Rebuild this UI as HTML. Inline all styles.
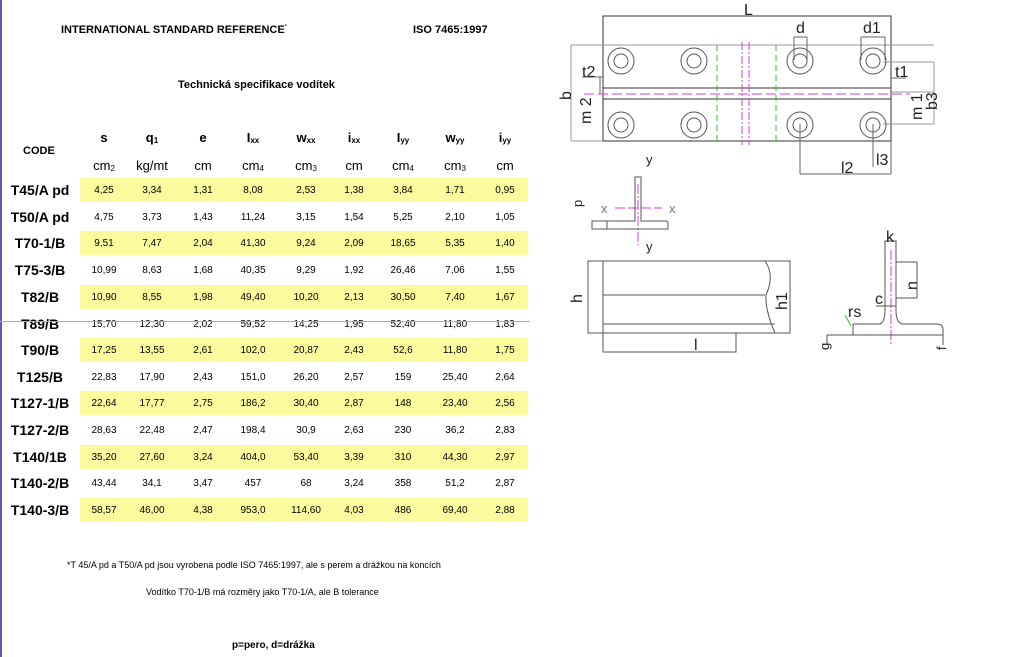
<!DOCTYPE html>
<html><head><meta charset="utf-8"><style>
body{margin:0;width:1024px;height:657px;background:#fff;position:relative;overflow:hidden;font-family:"Liberation Sans",Arial,sans-serif;color:#000}
.a{position:absolute;white-space:nowrap}
.y{position:absolute;left:80px;width:448px;height:24px;background:#fbfb9e}
.r{position:absolute;left:0;width:1024px;height:24px}
.r span{position:absolute;top:7px;font-size:10px;transform:translateX(-50%)}
.r b{position:absolute;top:4px;font-size:14px;left:40px;transform:translateX(-50%)}
.h span{position:absolute;transform:translateX(-50%);font-size:13px}
sub{font-size:8px;vertical-align:-1px}
</style></head><body>
<div class="a" style="left:0;top:0;width:2px;height:657px;background:#6a5aa8"></div>
<div class="a" style="left:61px;top:24px;font-size:11px;font-weight:bold">INTERNATIONAL STANDARD REFERENCE<sup style="font-size:6px;font-weight:normal">*</sup></div>
<div class="a" style="left:413px;top:24px;font-size:11px;font-weight:bold">ISO 7465:1997</div>
<div class="a" style="left:178px;top:79px;font-size:11px;font-weight:bold">Technická specifikace vodítek</div>
<div class="a" style="left:23px;top:145px;font-size:11px;font-weight:bold">CODE</div>
<div class="h a" style="left:0;top:130px;width:600px;font-weight:bold">
<span style="left:104px">s</span><span style="left:152px">q<sub>1</sub></span><span style="left:203px">e</span><span style="left:253px">I<sub>xx</sub></span><span style="left:306px">w<sub>xx</sub></span><span style="left:354px">i<sub>xx</sub></span><span style="left:403px">I<sub>yy</sub></span><span style="left:455px">w<sub>yy</sub></span><span style="left:505px">i<sub>yy</sub></span></div>
<div class="h a" style="left:0;top:158px;width:600px">
<span style="left:104px">cm<sub>2</sub></span><span style="left:152px">kg/mt</span><span style="left:203px">cm</span><span style="left:253px">cm<sub>4</sub></span><span style="left:306px">cm<sub>3</sub></span><span style="left:354px">cm</span><span style="left:403px">cm<sub>4</sub></span><span style="left:455px">cm<sub>3</sub></span><span style="left:505px">cm</span></div>

<div class="y" style="top:178px"></div><div class="y" style="top:231px"></div><div class="y" style="top:285px"></div><div class="y" style="top:338px"></div><div class="y" style="top:391px"></div><div class="y" style="top:445px"></div><div class="y" style="top:498px"></div>

<div class="r" style="top:178px"><b>T45/A pd</b><span style="left:104px">4,25</span><span style="left:152px">3,34</span><span style="left:203px">1,31</span><span style="left:253px">8,08</span><span style="left:306px">2,53</span><span style="left:354px">1,38</span><span style="left:403px">3,84</span><span style="left:455px">1,71</span><span style="left:505px">0,95</span></div>
<div class="r" style="top:205px"><b>T50/A pd</b><span style="left:104px">4,75</span><span style="left:152px">3,73</span><span style="left:203px">1,43</span><span style="left:253px">11,24</span><span style="left:306px">3,15</span><span style="left:354px">1,54</span><span style="left:403px">5,25</span><span style="left:455px">2,10</span><span style="left:505px">1,05</span></div>
<div class="r" style="top:231px"><b>T70-1/B</b><span style="left:104px">9,51</span><span style="left:152px">7,47</span><span style="left:203px">2,04</span><span style="left:253px">41,30</span><span style="left:306px">9,24</span><span style="left:354px">2,09</span><span style="left:403px">18,65</span><span style="left:455px">5,35</span><span style="left:505px">1,40</span></div>
<div class="r" style="top:258px"><b>T75-3/B</b><span style="left:104px">10,99</span><span style="left:152px">8,63</span><span style="left:203px">1,68</span><span style="left:253px">40,35</span><span style="left:306px">9,29</span><span style="left:354px">1,92</span><span style="left:403px">26,46</span><span style="left:455px">7,06</span><span style="left:505px">1,55</span></div>
<div class="r" style="top:285px"><b>T82/B</b><span style="left:104px">10,90</span><span style="left:152px">8,55</span><span style="left:203px">1,98</span><span style="left:253px">49,40</span><span style="left:306px">10,20</span><span style="left:354px">2,13</span><span style="left:403px">30,50</span><span style="left:455px">7,40</span><span style="left:505px">1,67</span></div>
<div class="r" style="top:312px"><b>T89/B</b><span style="left:104px">15,70</span><span style="left:152px">12,30</span><span style="left:203px">2,02</span><span style="left:253px">59,52</span><span style="left:306px">14,25</span><span style="left:354px">1,95</span><span style="left:403px">52,40</span><span style="left:455px">11,80</span><span style="left:505px">1,83</span></div>
<div class="a" style="left:0;top:321px;width:530px;height:1px;background:#a8a8c8"></div>
<div class="r" style="top:338px"><b>T90/B</b><span style="left:104px">17,25</span><span style="left:152px">13,55</span><span style="left:203px">2,61</span><span style="left:253px">102,0</span><span style="left:306px">20,87</span><span style="left:354px">2,43</span><span style="left:403px">52,6</span><span style="left:455px">11,80</span><span style="left:505px">1,75</span></div>
<div class="r" style="top:365px"><b>T125/B</b><span style="left:104px">22,83</span><span style="left:152px">17,90</span><span style="left:203px">2,43</span><span style="left:253px">151,0</span><span style="left:306px">26,20</span><span style="left:354px">2,57</span><span style="left:403px">159</span><span style="left:455px">25,40</span><span style="left:505px">2,64</span></div>
<div class="r" style="top:391px"><b>T127-1/B</b><span style="left:104px">22,64</span><span style="left:152px">17,77</span><span style="left:203px">2,75</span><span style="left:253px">186,2</span><span style="left:306px">30,40</span><span style="left:354px">2,87</span><span style="left:403px">148</span><span style="left:455px">23,40</span><span style="left:505px">2,56</span></div>
<div class="r" style="top:418px"><b>T127-2/B</b><span style="left:104px">28,63</span><span style="left:152px">22,48</span><span style="left:203px">2,47</span><span style="left:253px">198,4</span><span style="left:306px">30,9</span><span style="left:354px">2,63</span><span style="left:403px">230</span><span style="left:455px">36,2</span><span style="left:505px">2,83</span></div>
<div class="r" style="top:445px"><b>T140/1B</b><span style="left:104px">35,20</span><span style="left:152px">27,60</span><span style="left:203px">3,24</span><span style="left:253px">404,0</span><span style="left:306px">53,40</span><span style="left:354px">3,39</span><span style="left:403px">310</span><span style="left:455px">44,30</span><span style="left:505px">2,97</span></div>
<div class="r" style="top:471px"><b>T140-2/B</b><span style="left:104px">43,44</span><span style="left:152px">34,1</span><span style="left:203px">3,47</span><span style="left:253px">457</span><span style="left:306px">68</span><span style="left:354px">3,24</span><span style="left:403px">358</span><span style="left:455px">51,2</span><span style="left:505px">2,87</span></div>
<div class="r" style="top:498px"><b>T140-3/B</b><span style="left:104px">58,57</span><span style="left:152px">46,00</span><span style="left:203px">4,38</span><span style="left:253px">953,0</span><span style="left:306px">114,60</span><span style="left:354px">4,03</span><span style="left:403px">486</span><span style="left:455px">69,40</span><span style="left:505px">2,88</span></div>

<div class="a" style="left:67px;top:560px;font-size:9px">*T 45/A pd a T50/A pd jsou vyrobena podle ISO 7465:1997, ale s perem a drážkou na koncích</div>
<div class="a" style="left:146px;top:587px;font-size:9px">Vodítko T70-1/B má rozměry jako T70-1/A, ale B tolerance</div>
<div class="a" style="left:232px;top:640px;font-size:10px;font-weight:bold">p=pero, d=drážka</div>

<svg class="a" style="left:0;top:0" width="1024" height="657" font-family="Liberation Sans, sans-serif" fill="none" stroke-width="1">
<g stroke="#333">
<rect x="603" y="16" width="288" height="125"/>
<line x1="571" y1="45" x2="934" y2="45" stroke="#999"/>
<line x1="571" y1="45" x2="571" y2="141" stroke="#999"/>
<line x1="571" y1="141" x2="603" y2="141" stroke="#999"/>
<line x1="603" y1="88" x2="891" y2="88"/>
<line x1="603" y1="99" x2="891" y2="99"/>
<line x1="891" y1="92" x2="934" y2="92" stroke="#999"/>
<line x1="934" y1="62" x2="934" y2="124" stroke="#999"/>
<line x1="883" y1="124" x2="934" y2="124" stroke="#999"/>
<line x1="883" y1="62" x2="934" y2="62" stroke="#999"/>
<line x1="800" y1="124" x2="800" y2="174" stroke="#666"/>
<line x1="800" y1="174" x2="891" y2="174" stroke="#666"/>
<line x1="891" y1="141" x2="891" y2="174" stroke="#666"/>
<line x1="873" y1="124" x2="873" y2="167" stroke="#666"/>
<line x1="794" y1="60" x2="794" y2="37" stroke="#666"/><line x1="807" y1="60" x2="807" y2="37" stroke="#666"/><line x1="794" y1="37" x2="807" y2="37" stroke="#666"/>
<line x1="861" y1="60" x2="861" y2="37" stroke="#666"/><line x1="885" y1="60" x2="885" y2="37" stroke="#666"/><line x1="861" y1="37" x2="885" y2="37" stroke="#666"/>
<line x1="582" y1="77" x2="603" y2="77" stroke="#666"/><line x1="600" y1="77" x2="600" y2="94" stroke="#666"/>
<line x1="891" y1="78" x2="906" y2="78" stroke="#666"/>
</g>
<g stroke="#555">
<circle cx="621" cy="61" r="13"/><circle cx="621" cy="61" r="7"/>
<circle cx="694" cy="61" r="13"/><circle cx="694" cy="61" r="7"/>
<circle cx="800" cy="61" r="13"/><circle cx="800" cy="61" r="7"/>
<circle cx="873" cy="61" r="13"/><circle cx="873" cy="61" r="7"/>
<circle cx="621" cy="125" r="13"/><circle cx="621" cy="125" r="7"/>
<circle cx="694" cy="125" r="13"/><circle cx="694" cy="125" r="7"/>
<circle cx="800" cy="125" r="13"/><circle cx="800" cy="125" r="7"/>
<circle cx="873" cy="125" r="13"/><circle cx="873" cy="125" r="7"/>
</g>
<g stroke="#d040d0">
<line x1="584" y1="94" x2="910" y2="94" stroke-dasharray="10,4"/>
<line x1="742" y1="42" x2="742" y2="145" stroke-dasharray="8,2,2,2"/>
<line x1="749" y1="42" x2="749" y2="145" stroke-dasharray="8,2,2,2"/>
<line x1="638" y1="184" x2="638" y2="245" stroke-dasharray="10,2,2,2"/>
<line x1="615" y1="208" x2="662" y2="208" stroke-dasharray="10,3"/>
<line x1="891" y1="250" x2="891" y2="345" stroke-dasharray="10,2,2,2"/>
</g>
<g stroke="#30c030" stroke-dasharray="6,4"><line x1="717" y1="45" x2="717" y2="141"/><line x1="776" y1="45" x2="776" y2="141"/></g>
<g stroke="#555">
<path d="M635 177 V221 H592 V229 H668 V223 Q668 221 665 221 H641 V177 Z"/>
<line x1="607" y1="221" x2="607" y2="229"/>
<rect x="588" y="261" width="202" height="72"/>
<line x1="603" y1="261" x2="603" y2="333"/>
<line x1="603" y1="295" x2="765" y2="295"/>
<line x1="603" y1="324" x2="775" y2="324"/>
<path d="M765 261 Q775 275 766 295 Q765 310 775 333"/>
<path d="M603 333 H736 V352 H603 Z"/>
<path d="M885 241 V310 Q885 322 880 324 H853 V335 H943 V329 Q943 324 936 324 H902 Q896 322 896 310 V241 Z"/>
<path d="M896 262 H917 V298 H896"/>
<line x1="827" y1="335" x2="827" y2="345"/><line x1="827" y1="335" x2="853" y2="335"/>
<line x1="943" y1="335" x2="943" y2="345"/><line x1="876" y1="306" x2="896" y2="306"/>
</g>
<line x1="845" y1="315" x2="851" y2="326" stroke="#30c030"/>
<g fill="#222" stroke="none" font-size="16">
<text x="744" y="15">L</text><text x="796" y="33">d</text><text x="863" y="33">d1</text>
<text x="582" y="77">t2</text><text x="895" y="77">t1</text>
<text x="841" y="173">l2</text><text x="876" y="165">l3</text>
<text x="848" y="317">rs</text><text x="875" y="304">c</text><text x="886" y="242">k</text>
<text x="694" y="350">l</text>
<text x="646" y="164" font-size="13">y</text><text x="646" y="251" font-size="13">y</text>
<text x="601" y="213" font-size="13" fill="#777">x</text><text x="669" y="213" font-size="13" fill="#777">x</text>
<text transform="translate(571,100) rotate(-90)">b</text>
<text transform="translate(591,124) rotate(-90)">m 2</text>
<text transform="translate(937,110) rotate(-90)">b3</text>
<text transform="translate(922,120) rotate(-90)">m 1</text>
<text transform="translate(582,207) rotate(-90)" font-size="13">p</text>
<text transform="translate(582,303) rotate(-90)">h</text>
<text transform="translate(787,310) rotate(-90)">h1</text>
<text transform="translate(917,290) rotate(-90)">n</text>
<text transform="translate(829,350) rotate(-90)" font-size="13">g</text>
<text transform="translate(946,350) rotate(-90)" font-size="13">f</text>
</g>
</svg>
</body></html>
